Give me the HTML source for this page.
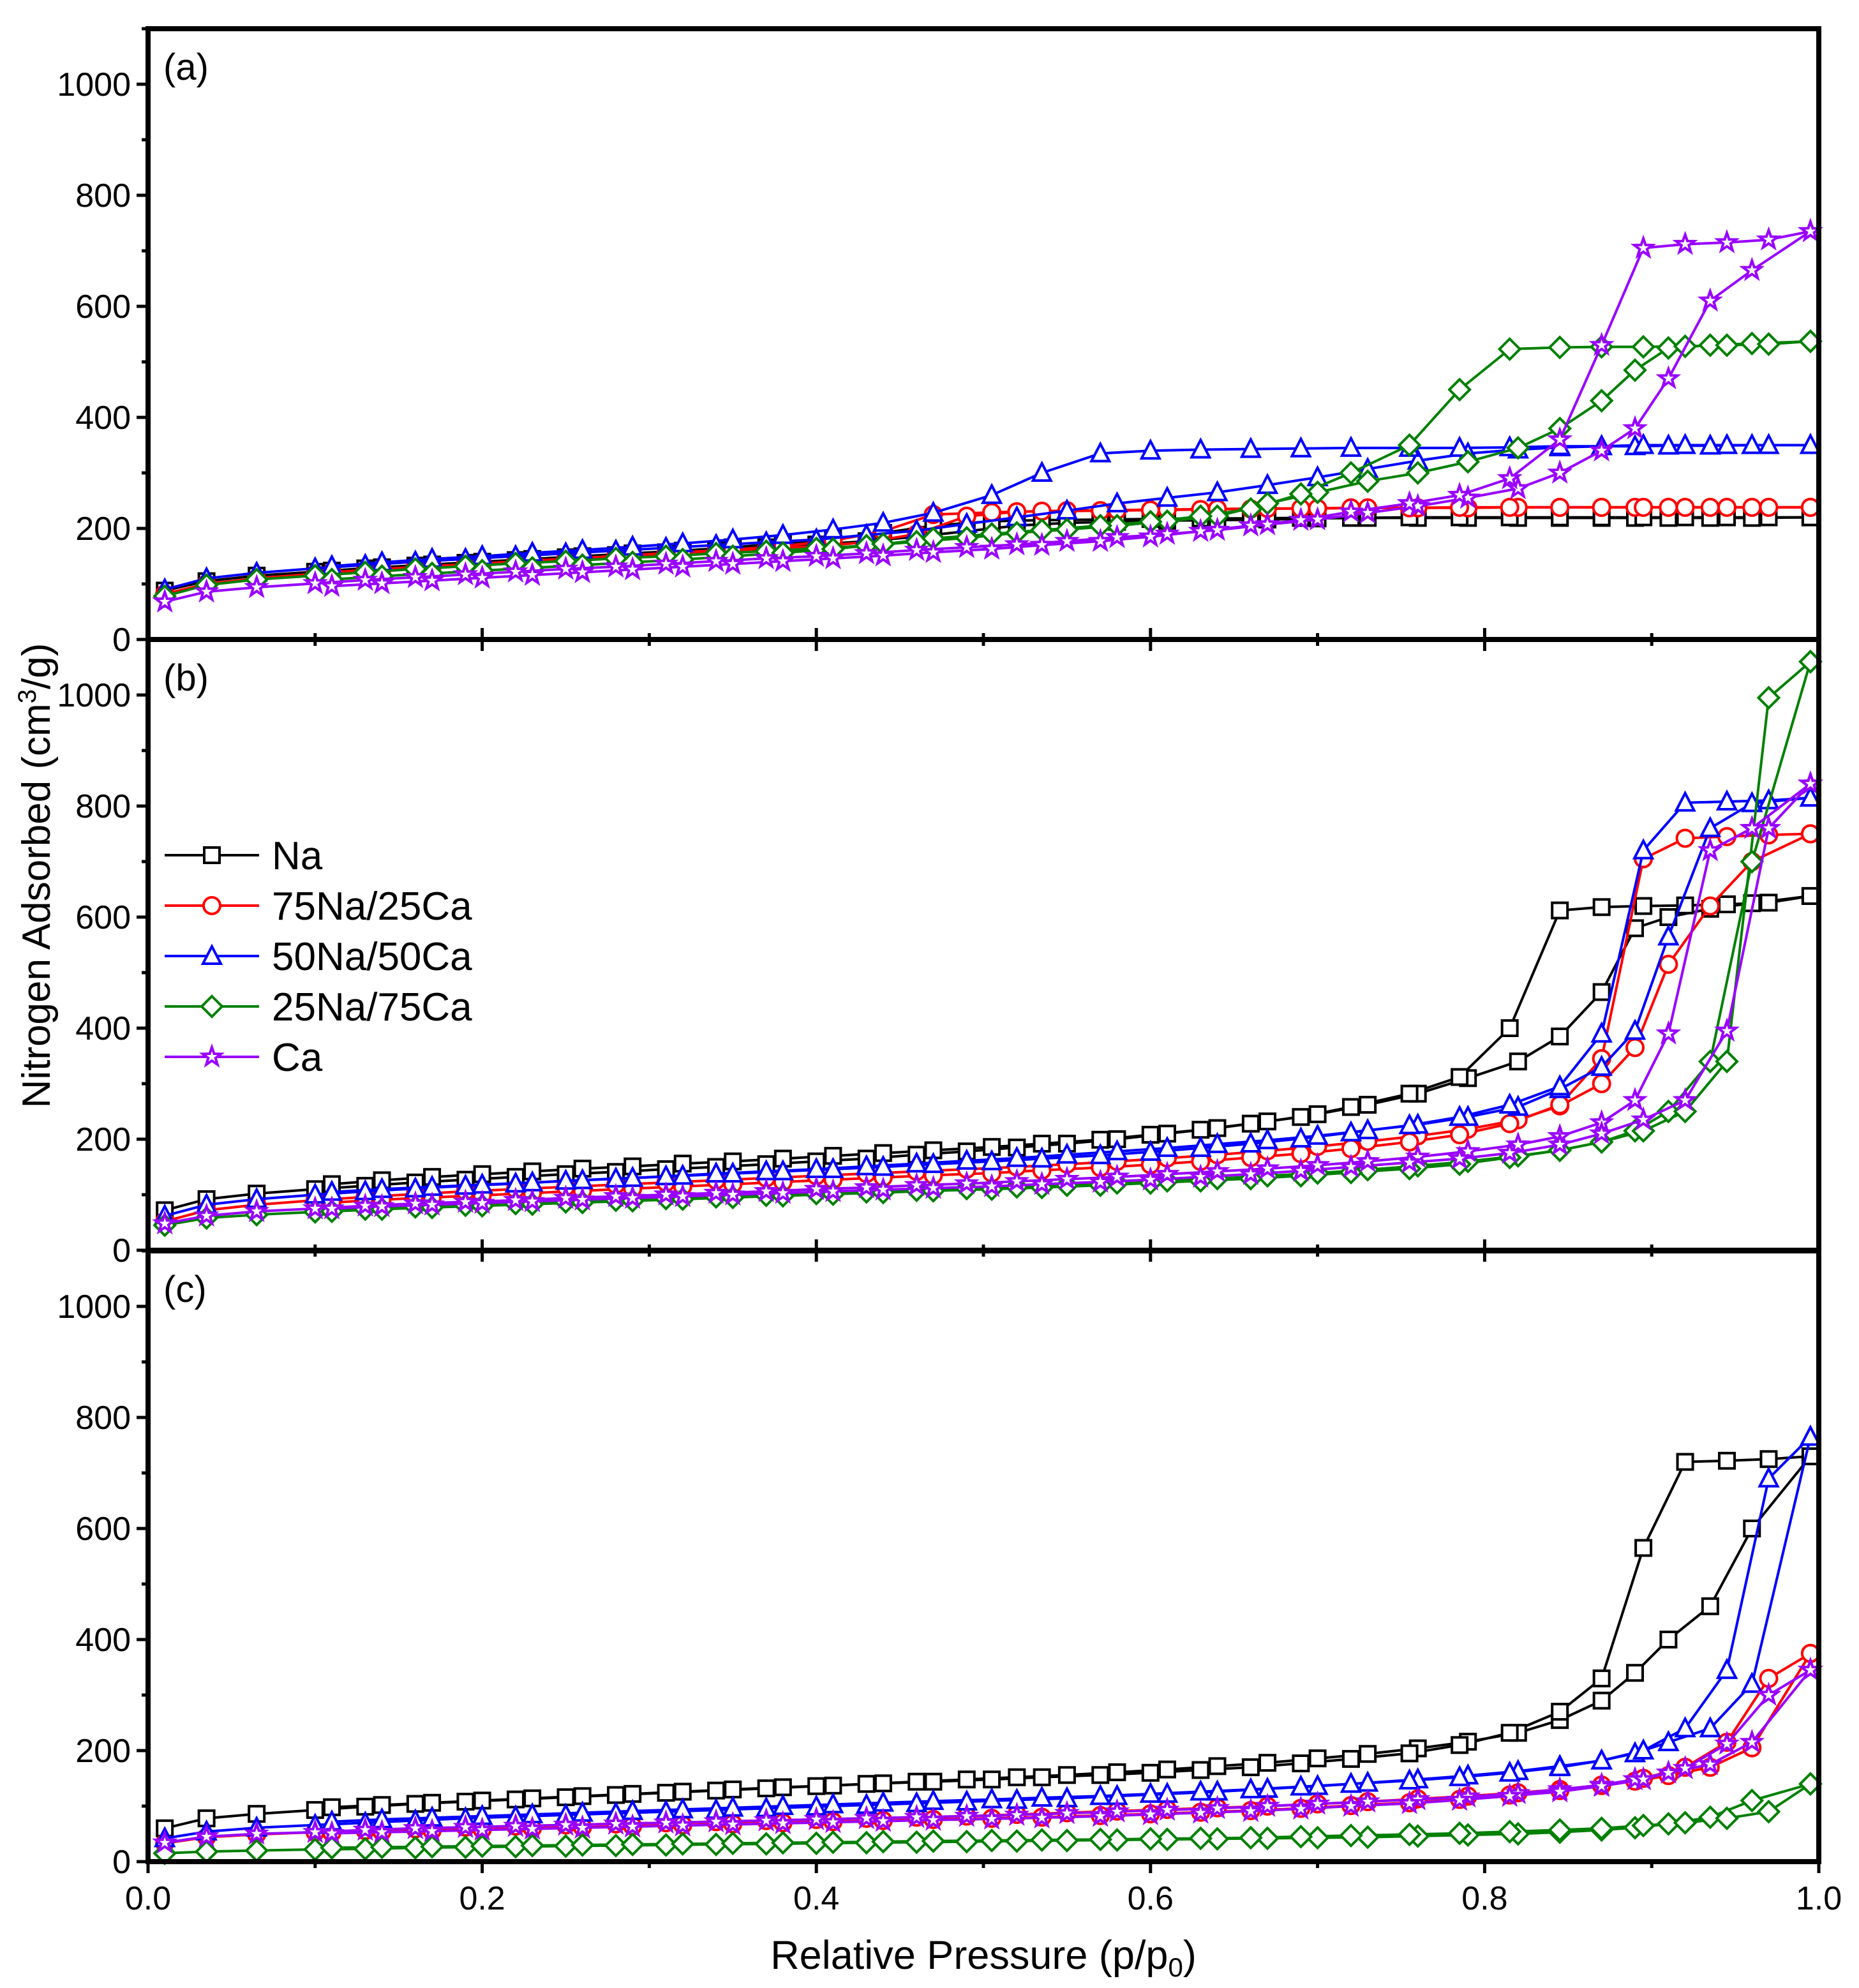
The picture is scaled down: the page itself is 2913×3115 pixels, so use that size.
<!DOCTYPE html>
<html><head><meta charset="utf-8"><style>
html,body{margin:0;padding:0;background:#fff}
svg text{font-family:"Liberation Sans",Arial,sans-serif}
</style></head><body>
<svg id="chart" xmlns="http://www.w3.org/2000/svg" width="2913" height="3110" viewBox="0 0 2913 3110"></svg>
<script>
const seriesNames = ["Na","75Na/25Ca","50Na/50Ca","25Na/75Ca","Ca"];
const seriesColors = ["#000000","#ff0000","#0000ff","#008000","#9900ff"];
const seriesMarkers = ["square","circle","triangle","diamond","star"];
const panelLabels = ["(a)","(b)","(c)"];
const yTicks = [0,200,400,600,800,1000];
const xTicks = [0.0,0.2,0.4,0.6,0.8,1.0];
const adsP = [0.01,0.035,0.065,0.1,0.13,0.16,0.19,0.22,0.25,0.28,0.31,0.34,0.37,0.40,0.43,0.46,0.49,0.52,0.55,0.58,0.61,0.64,0.67,0.70,0.73,0.76,0.79,0.82,0.845,0.87,0.89,0.91,0.935,0.96,0.995];
const desP = [0.995,0.97,0.945,0.92,0.895,0.87,0.845,0.815,0.785,0.755,0.72,0.69,0.66,0.63,0.6,0.57,0.535,0.505,0.47,0.44,0.41,0.38,0.35,0.32,0.29,0.26,0.23,0.2,0.17,0.14,0.11];
// panel (a)
const aNaAds=[88,105,115,122,128,133,138,143,148,152,157,161,166,171,177,185,195,205,210,212,214,215,216,218,219,219,219,219,219,219,219,219,219,219,220];
const aNaDes=[220,220,220,220,220,220,220,220,220,220,219,219,218,218,217,216,215,213,205,192,182,173,166,160,155,150,145,140,135,130,124];
const aR75Ads=[82,100,110,118,124,130,135,140,145,150,154,158,163,168,175,190,222,230,232,233,234,235,236,236,237,237,237,238,238,238,238,238,238,238,238];
const aR75Des=[238,238,238,238,238,238,238,238,238,237,237,236,235,234,233,232,231,229,225,195,178,168,162,157,152,147,142,137,132,127,121];
const aR50Ads=[90,110,120,128,134,140,145,150,155,160,165,170,175,180,188,196,208,220,232,245,255,265,278,292,307,322,335,342,346,348,348,349,349,350,350];
const aR50Des=[350,350,350,350,350,348,348,346,345,345,345,344,343,342,340,335,300,260,228,210,198,188,180,173,167,161,156,150,145,139,132];
const aR25Ads=[78,98,108,115,121,127,132,137,141,146,150,155,159,164,169,176,183,192,198,205,213,222,245,265,285,300,320,345,380,430,485,525,530,533,537];
const aR25Des=[537,532,530,528,527,527,526,523,450,350,300,262,235,222,212,205,197,190,182,172,163,156,150,144,139,134,129,124,119,114,108];
const aCaAds=[68,86,94,101,107,112,117,122,127,131,136,141,146,150,155,161,166,171,177,184,190,197,207,216,228,240,255,272,300,340,380,470,610,665,735];
const aCaDes=[735,720,715,712,705,530,360,290,260,245,230,215,205,195,185,177,170,163,157,151,146,141,136,131,126,121,116,111,106,101,96];
// panel (b)
const bNaAds=[72,92,102,110,116,122,127,132,137,141,146,150,155,160,165,172,178,185,192,200,210,220,232,245,262,282,310,340,385,465,580,600,615,625,638];
const bNaDes=[638,626,623,621,620,618,612,400,312,282,258,240,228,217,208,199,192,186,180,175,170,165,160,156,151,147,142,137,132,126,119];
const bR75Ads=[52,72,82,90,96,101,106,110,114,118,122,126,130,134,138,142,146,150,155,160,166,172,179,187,196,206,218,235,260,300,365,515,620,700,750];
const bR75Des=[750,748,745,742,705,345,262,228,208,195,183,174,167,160,154,149,144,139,135,131,127,123,119,115,111,107,103,99,95,91,86];
const bR50Ads=[62,82,92,100,106,111,116,120,125,129,133,138,142,146,151,156,161,166,172,178,184,191,198,206,216,226,240,258,290,330,395,565,760,805,815];
const bR50Des=[815,810,808,806,720,390,295,262,240,225,212,201,192,184,177,171,165,160,155,150,146,142,138,134,130,126,122,118,114,110,105];
const bR25Ads=[45,58,64,69,74,78,81,84,87,90,93,96,99,102,105,108,111,114,117,121,125,129,134,139,145,152,160,170,180,195,215,250,340,700,1060];
const bR25Des=[1060,995,340,250,215,195,180,167,155,147,140,134,129,125,121,117,113,110,107,104,101,98,95,92,89,86,83,80,77,74,70];
const bCaAds=[48,62,70,75,80,84,87,90,94,97,100,103,106,110,113,117,120,124,128,132,137,142,147,153,160,168,178,190,205,230,270,390,720,760,840];
const bCaDes=[840,760,395,270,235,210,190,175,165,158,150,143,137,132,127,123,119,115,112,109,106,103,100,97,94,91,88,85,82,79,75];
// panel (c)
const cNaAds=[60,78,86,93,99,104,108,112,116,120,124,128,132,136,140,144,148,152,156,161,166,172,178,186,194,204,216,232,255,290,340,400,460,600,730];
const cNaDes=[730,725,722,720,565,330,270,232,210,195,185,177,170,165,160,156,152,148,144,141,137,134,130,126,122,118,114,110,106,102,98];
const cR75Ads=[33,44,49,53,56,59,62,64,66,68,70,72,74,76,78,80,82,85,88,91,94,97,100,104,108,113,118,124,130,137,145,155,170,205,375];
const cR75Des=[375,330,215,170,150,138,128,120,112,106,101,96,92,89,86,83,80,78,76,74,72,70,68,66,64,62,60,58,56,54,52];
const cR50Ads=[42,54,61,66,70,74,78,81,84,87,90,93,96,99,102,105,108,111,114,118,122,126,131,136,142,148,155,163,172,182,195,215,240,320,765];
const cR50Des=[765,690,345,240,200,182,170,160,152,146,140,135,130,126,122,118,115,112,109,106,103,100,97,94,91,88,85,82,79,76,72];
const cR25Ads=[15,18,20,22,23,25,26,27,28,29,30,31,32,33,34,35,36,37,38,39,40,41,42,43,44,46,48,50,53,57,61,68,80,110,140];
const cR25Des=[140,90,78,70,65,60,57,54,51,49,47,45,43,42,41,40,39,38,37,36,35,34,33,32,31,30,29,28,27,26,25];
const cCaAds=[34,45,50,53,57,60,62,64,66,68,70,72,74,76,78,80,82,84,87,90,93,96,100,104,108,112,117,123,130,138,148,160,175,215,345];
const cCaDes=[345,300,212,168,148,136,126,118,111,105,100,95,91,88,85,82,79,77,75,73,71,69,67,65,63,61,59,57,55,53,51];

const panelsAds=[[aNaAds,aR75Ads,aR50Ads,aR25Ads,aCaAds],[bNaAds,bR75Ads,bR50Ads,bR25Ads,bCaAds],[cNaAds,cR75Ads,cR50Ads,cR25Ads,cCaAds]];
const panelsDes=[[aNaDes,aR75Des,aR50Des,aR25Des,aCaDes],[bNaDes,bR75Des,bR50Des,bR25Des,bCaDes],[cNaDes,cR75Des,cR50Des,cR25Des,cCaDes]];

const NS="http://www.w3.org/2000/svg";
const svg=document.getElementById('chart');
const X0=232,X1=2850,YMAX=1100;
const panelTops=[45,1002,1960];const PH=957;
function xs(p){return X0+(X1-X0)*p;}
function ys(v,i){return panelTops[i]+PH-PH*v/YMAX;}
function mk(tag,attrs,parent){const e=document.createElementNS(NS,tag);for(const k in attrs)e.setAttribute(k,attrs[k]);(parent||svg).appendChild(e);return e;}

function marker(type,x,y,color,g){
  const s=12;let e;
  if(type==='square')e=mk('rect',{x:x-s,y:y-s,width:2*s,height:2*s},g);
  else if(type==='circle')e=mk('circle',{cx:x,cy:y,r:s+1},g);
  else if(type==='triangle')e=mk('polygon',{points:`${x},${y-s-3} ${x-s-2},${y+s} ${x+s+2},${y+s}`},g);
  else if(type==='diamond')e=mk('polygon',{points:`${x},${y-s-4} ${x+s+4},${y} ${x},${y+s+4} ${x-s-4},${y}`},g);
  else {let pts=[];for(let k=0;k<10;k++){const r=k%2?6:15;const a=-Math.PI/2+k*Math.PI/5;pts.push((x+r*Math.cos(a)).toFixed(1)+','+(y+r*Math.sin(a)).toFixed(1));}e=mk('polygon',{points:pts.join(' ')},g);}
  e.setAttribute('fill','#fff');e.setAttribute('stroke',color);e.setAttribute('stroke-width','4');
  
  
  return e;
}

for(let i=0;i<3;i++){
  const top=panelTops[i],bot=top+PH;
  const pg=mk('g',{});
  
  
  for(let s=0;s<5;s++){
    const g=mk('g',{},pg);
    
    
    const ads=panelsAds[i][s],des=panelsDes[i][s];
    const pa=ads.map((v,k)=>xs(adsP[k]).toFixed(1)+','+ys(v,i).toFixed(1)).join(' ');
    const pd=des.map((v,k)=>xs(desP[k]).toFixed(1)+','+ys(v,i).toFixed(1)).join(' ');
    const l1=mk('polyline',{points:pa,fill:'none',stroke:seriesColors[s],'stroke-width':4},g);
    
    
    const l2=mk('polyline',{points:pd,fill:'none',stroke:seriesColors[s],'stroke-width':4},g);
    
    
    ads.forEach((v,k)=>marker(seriesMarkers[s],xs(adsP[k]),ys(v,i),seriesColors[s],g));
    des.forEach((v,k)=>marker(seriesMarkers[s],xs(desP[k]),ys(v,i),seriesColors[s],g));
  }
  const fr=mk('rect',{x:X0,y:top,width:X1-X0,height:PH,fill:'none',stroke:'#000','stroke-width':8},pg);
  
  
  for(let v=0;v<=1100;v+=100){
    const y=ys(v,i);const major=v%200===0&&v<=1000;
    mk('line',{x1:X0-(major?18:10),x2:X0,y1:y,y2:y,stroke:'#000','stroke-width':5},pg);
  }
  yTicks.forEach(v=>{
    const t=mk('text',{x:205,y:ys(v,i)+18,'text-anchor':'end','font-size':52},pg);
    t.textContent=v;
    
    
  });
  for(let p=0;p<=1.0001;p+=0.1){
    const x=xs(p);const major=Math.round(p*10)%2===0;
    mk('line',{x1:x,x2:x,y1:bot,y2:bot+(major?18:10),stroke:'#000','stroke-width':5},pg);
    if(i>0)mk('line',{x1:x,x2:x,y1:top,y2:top-(major?18:10),stroke:'#000','stroke-width':5},pg);
  }
  const pl=mk('text',{x:256,y:top+80,'font-size':58},pg);
  pl.textContent=panelLabels[i];
  
  
}
xTicks.forEach(p=>{
  const t=mk('text',{x:xs(p),y:2992,'text-anchor':'middle','font-size':52});
  t.textContent=p.toFixed(1);
  
  
});
const xt=mk('text',{x:1541,y:3085,'text-anchor':'middle','font-size':63});
xt.innerHTML='Relative Pressure (p/p<tspan font-size="42" dy="12">0</tspan><tspan dy="-12">)</tspan>';


const yt=mk('text',{x:0,y:0,'text-anchor':'middle','font-size':62,transform:'translate(78,1372) rotate(-90)'});
yt.innerHTML='Nitrogen Adsorbed (cm<tspan font-size="40" dy="-22">3</tspan><tspan dy="22">/g)</tspan>';


const lg=mk('g',{});


seriesNames.forEach((n,s)=>{
  const y=1340+s*79;
  const eg=mk('g',{},lg);
  
  
  mk('line',{x1:258,x2:406,y1:y,y2:y,stroke:seriesColors[s],'stroke-width':4},eg);
  marker(seriesMarkers[s],332,y,seriesColors[s],eg);
  const t=mk('text',{x:426,y:y+22,'font-size':62},eg);
  t.textContent=n;
  
  
});
</script>
</body></html>
